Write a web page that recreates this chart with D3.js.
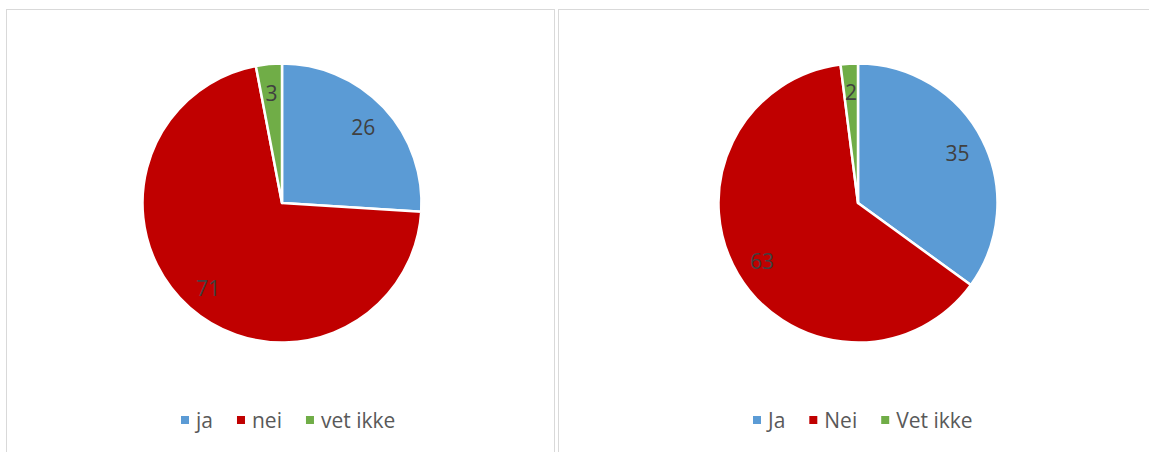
<!DOCTYPE html>
<html>
<head>
<meta charset="utf-8">
<script src="https://cdn.jsdelivr.net/npm/d3@7"></script>
<style>
  body { margin: 0; background: #fff; }
  svg { display: block; font-family: "Open Sans", "Liberation Sans", sans-serif; }
</style>
</head>
<body>
<script>
// two pies side by side, each in its own bordered frame

const width = 1149,
      height = 452;

// left chart
const leftCategories = ["ja", "nei", "vet ikke"];
const leftValues = [26, 71, 3];

// right chart
const rightCategories = ["Ja", "Nei", "Vet ikke"];
const rightValues = [35, 63, 2];

const colors = ["#5B9BD5", "#C00000", "#70AD47"];

const svg = d3.select("body").append("svg")
  .attr("width", width)
  .attr("height", height);

// frames
svg.append("rect")
  .attr("x", 6.5).attr("y", 9.5)
  .attr("width", 548).attr("height", 460)
  .attr("fill", "none").attr("stroke", "#d9d9d9");
svg.append("rect")
  .attr("x", 558.5).attr("y", 9.5)
  .attr("width", 620).attr("height", 460)
  .attr("fill", "none").attr("stroke", "#d9d9d9");

function drawPie(cx, cy, r, cats, vals, legendX) {
  let data = cats.map((c, i) => ({ cat: c, value: vals[i], color: colors[i] }));

  let pie = d3.pie().sort(null).value(d => d.value);
  let arc = d3.arc().innerRadius(0).outerRadius(r);
  let labelArc = d3.arc().innerRadius(r * 0.8).outerRadius(r * 0.8);

  let g = svg.append("g").attr("transform", `translate(${cx},${cy})`);
  let arcs = pie(data);

  g.selectAll("path")
    .data(arcs)
    .enter()
    .append("path")
    .attr("d", arc)
    .attr("fill", d => d.data.color)
    .attr("stroke", "#fff")
    .attr("stroke-width", 2.5)
    .attr("stroke-linejoin", "round");

  g.selectAll("text")
    .data(arcs)
    .enter()
    .append("text")
    .attr("transform", d => `translate(${labelArc.centroid(d)})`)
    .attr("text-anchor", "middle")
    .attr("dy", "0.42em")
    .attr("font-size", 21)
    .attr("fill", "#404040")
    .text(d => d.data.value);

  // legend, laid out from measured text widths
  let lg = svg.append("g").attr("transform", `translate(${legendX}, 420)`);
  let x = 0;
  data.forEach(d => {
    lg.append("rect")
      .attr("x", x).attr("y", -4)
      .attr("width", 8).attr("height", 8)
      .attr("fill", d.color);
    let t = lg.append("text")
      .attr("x", x + 15)
      .attr("dy", "0.36em")
      .attr("font-size", 21)
      .attr("fill", "#595959")
      .text(d.cat);
    x += 15 + t.node().getComputedTextLength() + 24;
  });
}

drawPie(282, 203, 139.5, leftCategories, leftValues, 181);
drawPie(858, 203, 139.5, rightCategories, rightValues, 753);
</script>
</body>
</html>
